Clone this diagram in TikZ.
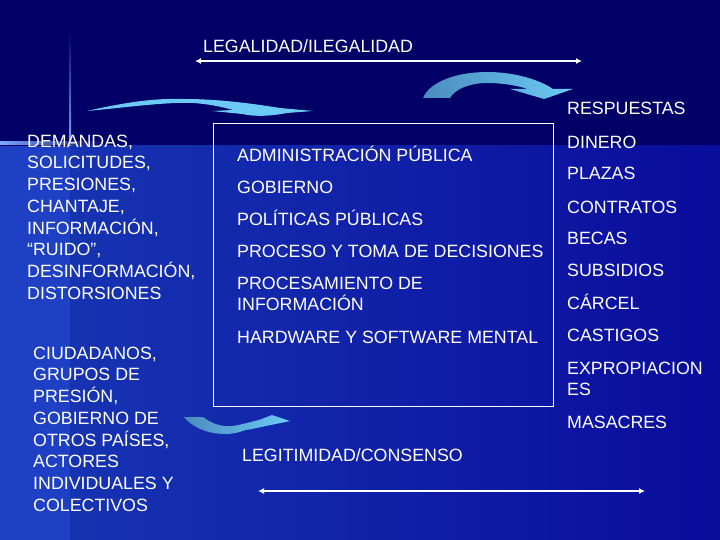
\documentclass[tikz,border=0pt]{standalone}
\usepackage{fontspec}
\setmainfont{Liberation Sans}
\usetikzlibrary{arrows.meta}
\definecolor{navyTop}{HTML}{000066}
\definecolor{blueLow}{HTML}{1633B2}
\definecolor{blueRight}{HTML}{0A0C9C}
\definecolor{blueStrip}{HTML}{1E40C4}
\definecolor{streak}{HTML}{7FA8FF}
\definecolor{swoosh}{HTML}{6CCBF5}
\definecolor{swooshDark}{HTML}{4A8CBE}
\newcommand{\slideFont}{\fontsize{17.8}{21.7}\selectfont}
\tikzset{
  slideText/.style={text=white, inner sep=0pt, font=\slideFont, align=left, anchor=north west},
  lineText/.style={slideText, anchor=base west},
  twoway/.style={white, line width=1.6pt, {Latex[length=6pt,width=6pt]}-{Latex[length=6pt,width=6pt]}},
  blockArrow/.style={left color=swooshDark, right color=swoosh},
}

\begin{document}
\begin{tikzpicture}[x=1pt, y=-1pt]
  % background
  \fill[navyTop] (0,0) rectangle (720,540);
  \useasboundingbox (0,0) rectangle (720,540);
  \shade[left color=blueLow, right color=blueRight] (70,146) rectangle (720,540);
  \fill[blueStrip] (0,146) rectangle (70,540);
  \shade[top color=navyTop, bottom color=streak] (69,30) rectangle (71,146);
  \shade[left color=streak, right color=navyTop] (0,142) rectangle (110,145);

  % top
  \node[lineText] (legal) at (203,52.4) {LEGALIDAD/ILEGALIDAD};
  \coordinate (legalL) at (195,61);
  \coordinate (legalR) at (582,61);
  \draw[twoway] (legalL) -- (legalR);

  % curved arrows
  \fill[swoosh] (87,111) .. controls (130,101) and (160,98) .. (185,99)
    .. controls (220,99) and (255,104) .. (280,108) -- (313,111) -- (287,113)
    .. controls (272,116) and (255,117) .. (242,114) -- (212,111) -- (233,110)
    .. controls (212,104) and (192,102) .. (176,103)
    .. controls (150,104) and (120,108) .. (87,111) -- cycle;
  \shade[blockArrow] (423,98) .. controls (430,81) and (458,72) .. (487,72)
    .. controls (515,72) and (540,80) .. (553,89) -- (573,89) -- (544,99) -- (510,89) -- (528,89)
    .. controls (515,85) and (501,83) .. (487,83)
    .. controls (470,83) and (455,89) .. (450,98) -- cycle;
  \shade[blockArrow] (184,417) -- (203,417) .. controls (212,424) and (222,427) .. (232,426)
    .. controls (241,425) and (250,422) .. (259,420) -- (272,415) -- (290,421) -- (247,430) -- (254,426)
    .. controls (245,431) and (235,434) .. (225,434)
    .. controls (205,434) and (190,425) .. (184,417) -- cycle;

  % left side
  \node[slideText] (demandas) at (27,134.6) {DEMANDAS,\\SOLICITUDES,\\PRESIONES,\\CHANTAJE,\\INFORMACIÓN,\\“RUIDO”,\\DESINFORMACIÓN,\\DISTORSIONES};
  \node[slideText] (actores) at (33,346.6) {CIUDADANOS,\\GRUPOS DE\\PRESIÓN,\\GOBIERNO DE\\OTROS PAÍSES,\\ACTORES\\INDIVIDUALES Y\\COLECTIVOS};

  % system box
  \node[draw=white, line width=0.9pt, inner sep=0pt, minimum width=340pt, minimum height=283pt, anchor=north west] (sistema) at (213,123) {};
  \foreach \y/\txt [count=\i] in {155/ADMINISTRACIÓN PÚBLICA, 187/GOBIERNO, 219/POLÍTICAS PÚBLICAS, 251/PROCESO Y TOMA DE DECISIONES, 337/HARDWARE Y SOFTWARE MENTAL}
    \node[lineText] (proc\i) at (237,\y+6.4) {\txt};
  \node[slideText] (procInfo) at (237,276.6) {PROCESAMIENTO DE\\INFORMACIÓN};

  % right side
  \foreach \y/\txt [count=\i] in {108/RESPUESTAS, 142/DINERO, 173/PLAZAS, 207/CONTRATOS, 238/BECAS, 270/SUBSIDIOS, 303/CÁRCEL, 335/CASTIGOS, 422/MASACRES}
    \node[lineText] (resp\i) at (567,\y+6.4) {\txt};
  \node[slideText] (expro) at (567,361.6) {EXPROPIACION\\ES};

  % bottom
  \node[lineText] (legit) at (242,461.4) {LEGITIMIDAD/CONSENSO};
  \coordinate (legitL) at (258,491);
  \coordinate (legitR) at (645,491);
  \draw[twoway] (legitL) -- (legitR);
\end{tikzpicture}
\end{document}
